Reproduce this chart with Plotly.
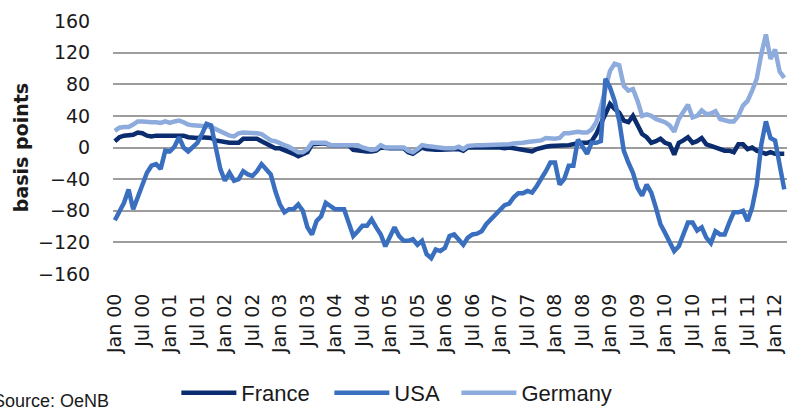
import plotly.graph_objects as go

months = list(range(147))  # Jan 2000 .. Mar 2012, monthly

france = [
    8, 13, 15, 15, 16, 19, 18, 15, 14, 15, 15, 15,
    15, 16, 16, 15, 13, 12, 12, 13, 13, 12, 9, 8,
    6, 6, 6, 6, 11, 11, 11, 11, 8, 5, 1, -1,
    -1, -3, -6, -8, -11, -9, -6, 4, 5, 5, 5, 3,
    3, 3, 3, 3, -3, -4, -4, -5, -5, -4, 0, -1,
    -1, -1, -1, -1, -6, -8, -4, 0, -2, -3, -3, -3,
    -3, -3, -3, -2, -4, 0, 0, 0, 0, 0, 0, 1,
    0, -1, 0, -1, -2, -3, -4, -5, -2, 0, 1, 2,
    2, 3, 3, 3, 4, 6, 6, 6, 8, 17, 30, 42,
    55, 49, 44, 34, 32, 40, 28, 17, 13, 6, 8, 11,
    6, 4, -9, 6, 9, 13, 6, 8, 12, 4, 2, 0,
    -3, -4, -4, -6, 4, 4, -2, 0, -4, -6, -8, -6,
    -8, -8, -8,
]

usa = [
    -92, -80, -70, -53, -78, -63, -49, -32, -23, -21, -27, -4,
    -5, 1, 13, 0, -5, 0, 6, 17, 30, 28, 1, -27,
    -42, -32, -42, -40, -30, -34, -36, -30, -21, -27, -34, -55,
    -72, -82, -78, -78, -72, -80, -101, -110, -93, -87, -70, -74,
    -78, -78, -78, -95, -112, -106, -99, -99, -91, -101, -110, -125,
    -114, -101, -112, -118, -118, -116, -123, -118, -135, -140, -129, -131,
    -127, -112, -110, -116, -123, -114, -110, -109, -106, -97, -91, -85,
    -78, -73, -71, -63, -58, -58, -55, -57, -49, -40, -30, -19,
    -19, -47, -40, -23, -23, 10, 0, -8, 6, 6, 8, 87,
    76, 59, 34, -4, -19, -32, -51, -61, -47, -57, -76, -97,
    -108, -121, -131, -125, -110, -95, -95, -105, -101, -114, -121, -106,
    -110, -110, -95, -82, -82, -80, -93, -76, -47, 4, 33, 12,
    9, -20, -53,
]

germany = [
    21, 25, 26, 26, 29, 33, 33, 32, 32, 32, 31, 33,
    31, 33, 34, 32, 29, 28, 28, 28, 27, 26, 23, 20,
    17, 15, 14, 18, 19, 19, 18, 18, 17, 13, 9, 8,
    5, 3, 1, -2, -6, -6, -2, 6, 6, 6, 6, 3,
    3, 3, 3, 3, 3, 3, 0, -2, -3, -2, 3, 0,
    0, 0, 0, 0, -4, -6, -2, 3, 2, 1, 0, -1,
    -1, -1, -1, 1, -2, 2, 3, 3, 3, 3, 3, 3,
    3, 4, 4, 5, 5, 6, 7, 8, 8, 9, 12, 11,
    11, 12, 18, 18, 19, 20, 19, 19, 23, 32, 51, 72,
    97, 106, 104, 78, 72, 74, 59, 40, 42, 40, 36, 34,
    32, 28, 20, 36, 44, 54, 38, 40, 47, 42, 43, 46,
    36, 34, 33, 33, 40, 53, 59, 72, 87, 118, 143, 112,
    124, 96, 88,
]

tick_vals = list(range(0, 145, 6))
tick_text = [("Jan " if i % 12 == 0 else "Jul ") + f"{i // 12:02d}" for i in tick_vals]
y_ticks = list(range(-160, 161, 40))

c_france = "#0B2C6F"
c_usa = "#3A6FBF"
c_germany = "#8DABDC"

fig = go.Figure()
fig.add_trace(go.Scatter(x=months, y=france, mode="lines", name="France",
                         line=dict(color=c_france, width=4.5), legend="legend"))
fig.add_trace(go.Scatter(x=months, y=germany, mode="lines", name="Germany",
                         line=dict(color=c_germany, width=4.5), legend="legend3"))
fig.add_trace(go.Scatter(x=months, y=usa, mode="lines", name="USA",
                         line=dict(color=c_usa, width=4.5), legend="legend2"))

tick_font = "DejaVu Sans, Verdana, sans-serif"
leg_font = dict(size=22, family="Liberation Sans, Arial, sans-serif", color="#1a1a1a")
leg_common = dict(orientation="h", y=-0.47, xanchor="left", yanchor="middle",
                  font=leg_font, itemwidth=55, bgcolor="rgba(0,0,0,0)", borderwidth=0)

fig.update_layout(
    width=789, height=408,
    margin=dict(l=113, r=2, t=21, b=134, autoexpand=False),
    paper_bgcolor="white", plot_bgcolor="white",
    font=dict(family=tick_font, size=19, color="#1a1a1a"),
    showlegend=True,
    legend=dict(x=0.094, **leg_common),
    legend2=dict(x=0.321, **leg_common),
    legend3=dict(x=0.5095, **leg_common),
    xaxis=dict(range=[-0.4, 146.6], tickmode="array", tickvals=tick_vals, ticktext=tick_text,
               tickangle=-90, showgrid=False, zeroline=False, showline=False,
               ticks="outside", ticklen=11, tickcolor="rgba(0,0,0,0)",
               ticklabeloverflow="allow",
               tickfont=dict(size=19, family=tick_font)),
    yaxis=dict(range=[-160, 160], tickmode="array", tickvals=y_ticks,
               showgrid=True, gridcolor="#9d9d9d", gridwidth=1.6, zeroline=False,
               showline=False, ticks="outside", ticklen=18, tickcolor="rgba(0,0,0,0)",
               tickfont=dict(size=19, family=tick_font),
               title=dict(text="<b>basis points</b>",
                          font=dict(size=19, family=tick_font), standoff=4)),
    annotations=[dict(text="Source: OeNB", xref="paper", yref="paper",
                      x=-0.003, y=-0.50, xanchor="right", yanchor="middle",
                      showarrow=False,
                      font=dict(size=18, family="Liberation Sans, Arial, sans-serif",
                                color="#1a1a1a"))],
)

fig.write_html("out.html", config={"displayModeBar": False},
               post_script="document.body.style.margin='0';document.body.style.overflow='hidden';")
